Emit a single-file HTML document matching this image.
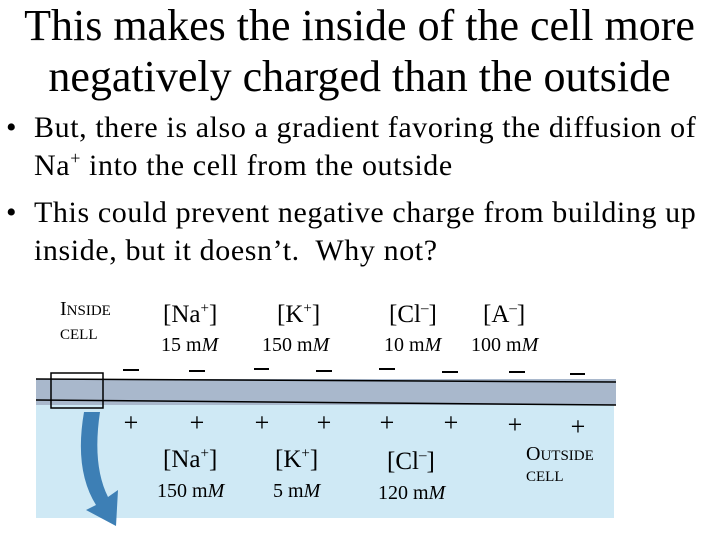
<!DOCTYPE html>
<html><head><style>
body{margin:0;width:719px;height:539px;background:#fff;position:relative;overflow:hidden;font-family:"Liberation Serif",serif;color:#000}
.a{position:absolute;white-space:nowrap}
.t{font-size:44px;width:719px;text-align:center;left:0}
.b{font-size:30px;letter-spacing:0.6px}
.s{font-size:25px}
.m{font-size:20px}
sup{font-size:60%;vertical-align:super;line-height:0}
</style></head><body>
<div class="a t" style="top:0px">This makes the inside of the cell more</div>
<div class="a t" style="top:51px">negatively charged than the outside</div>
<div class="a b" style="left:6px;top:111px">•</div>
<div class="a b" style="left:34px;top:111px">But, there is also a gradient favoring the diffusion of</div>
<div class="a b" style="left:34px;top:149px">Na<sup>+</sup> into the cell from the outside</div>
<div class="a b" style="left:6px;top:196px">•</div>
<div class="a b" style="left:34px;top:196px">This could prevent negative charge from building up</div>
<div class="a b" style="left:34px;top:234px">inside, but it doesn’t.&nbsp; Why not?</div>
<svg class="a" style="left:0;top:0" width="719" height="539">
<rect x="36" y="405" width="578" height="113" fill="#cfe9f5"/>
<rect x="36" y="379" width="580" height="26" fill="#a9b8cc"/>
<line x1="36" y1="379" x2="616" y2="382" stroke="#000" stroke-width="1.5"/>
<line x1="36" y1="400" x2="616" y2="405" stroke="#000" stroke-width="1.5"/>
<rect x="51" y="373" width="52" height="35" fill="none" stroke="#000" stroke-width="1.5"/>
<path d="M84 412 Q74 470 96 505 L86 510 L116 526 L118 490 L108 497 Q92 465 100 412 Z" fill="#3d7fb5"/>
<g stroke="#000" stroke-width="2">
<line x1="123" y1="370" x2="139" y2="370"/><line x1="189" y1="371" x2="205" y2="371"/><line x1="254" y1="369" x2="269" y2="369"/><line x1="316" y1="371" x2="332" y2="371"/><line x1="379" y1="369" x2="395" y2="369"/><line x1="442" y1="372" x2="458" y2="372"/><line x1="509" y1="372" x2="525" y2="372"/><line x1="570" y1="374" x2="585" y2="374"/>
</g>
<g font-size="26" text-anchor="middle" font-family="Liberation Serif,serif">
<text x="131" y="431">+</text><text x="197" y="431">+</text><text x="262" y="431">+</text><text x="324" y="431">+</text><text x="387" y="431">+</text><text x="451" y="431">+</text><text x="515" y="433">+</text><text x="578" y="435">+</text>
</g>
</svg>
<div class="a" style="left:60px;top:298px;font-size:20px">I<span style="font-size:15px">NSIDE</span></div>
<div class="a" style="left:60px;top:327px;font-size:15px">CELL</div>
<div class="a s" style="left:163px;top:301px">[Na<sup>+</sup>]</div>
<div class="a m" style="left:161px;top:334px">15 m<i>M</i></div>
<div class="a s" style="left:277px;top:301px">[K<sup>+</sup>]</div>
<div class="a m" style="left:262px;top:334px">150 m<i>M</i></div>
<div class="a s" style="left:389px;top:301px">[Cl<sup>–</sup>]</div>
<div class="a m" style="left:384px;top:334px">10 m<i>M</i></div>
<div class="a s" style="left:483px;top:301px">[A<sup>–</sup>]</div>
<div class="a m" style="left:471px;top:334px">100 m<i>M</i></div>
<div class="a s" style="left:163px;top:446px">[Na<sup>+</sup>]</div>
<div class="a m" style="left:157px;top:480px">150 m<i>M</i></div>
<div class="a s" style="left:275px;top:446px">[K<sup>+</sup>]</div>
<div class="a m" style="left:273px;top:480px">5 m<i>M</i></div>
<div class="a s" style="left:387px;top:448px">[Cl<sup>–</sup>]</div>
<div class="a m" style="left:378px;top:482px">120 m<i>M</i></div>
<div class="a" style="left:526px;top:443px;font-size:20px">O<span style="font-size:15px">UTSIDE</span></div>
<div class="a" style="left:526px;top:469px;font-size:15px">CELL</div>
</body></html>
